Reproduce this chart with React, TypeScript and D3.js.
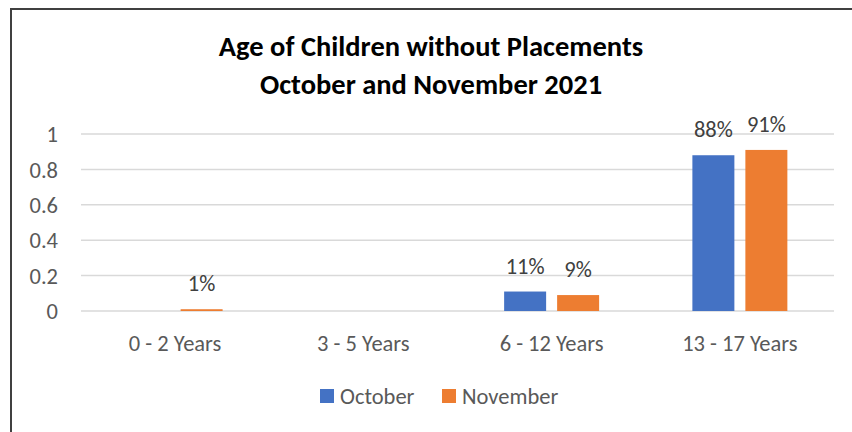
import React from "react";
import * as d3 from "d3";

const WIDTH = 852;
const HEIGHT = 432;
const FONT = "Calibri, Carlito, Lato, 'Open Sans', sans-serif";

const categories = ["0 - 2 Years", "3 - 5 Years", "6 - 12 Years", "13 - 17 Years"];
const seriesNames = ["October", "November"];
const october = [0, 0, 0.11, 0.88];
const november = [0.01, 0, 0.09, 0.91];
const octoberLabels = ["", "", "11%", "88%"];
const novemberLabels = ["1%", "", "9%", "91%"];
const yTicks = [0, 0.2, 0.4, 0.6, 0.8, 1];
const COLORS = ["#4472C4", "#ED7D31"];

const titleLines = ["Age of Children without Placements", "October and November 2021"];

export default function App() {
  const left = 81;
  const right = 834;
  const top = 134;
  const bottom = 311;

  const x0 = d3.scaleBand().domain(categories).range([left, right]).padding(0);
  const x1 = d3
    .scaleBand()
    .domain(seriesNames)
    .range([0, x0.bandwidth()])
    .paddingInner(0.2075)
    .paddingOuter(0.88);
  const y = d3.scaleLinear().domain([0, 1]).range([bottom, top]);

  const values = [october, november];
  const labels = [octoberLabels, novemberLabels];

  return (
    <svg
      width={WIDTH}
      height={HEIGHT}
      style={{ position: "absolute", left: 0, top: 0, background: "#fff" }}
      fontFamily={FONT}
    >
      <rect x={0} y={0} width={WIDTH} height={HEIGHT} fill="#fff" />
      {/* chart border, only top and left show */}
      <line x1={10} x2={WIDTH} y1={9} y2={9} stroke="#404040" strokeWidth={2} />
      <line x1={11} x2={11} y1={8} y2={HEIGHT} stroke="#404040" strokeWidth={2} />

      {titleLines.map((t, i) => (
        <text
          key={t}
          x={431}
          y={56 + i * 38}
          textAnchor="middle"
          fontSize={28.5}
          fontWeight="bold"
          fill="#000"
        >
          {t}
        </text>
      ))}

      {yTicks.map((t) => (
        <g key={t}>
          <line x1={left} x2={right} y1={y(t)} y2={y(t)} stroke="#d9d9d9" strokeWidth={1.5} />
          <text
            x={58}
            y={y(t)}
            dy="0.36em"
            textAnchor="end"
            fontSize={22.5}
            fill="#595959"
          >
            {t}
          </text>
        </g>
      ))}

      {categories.map((c, i) => (
        <g key={c} transform={`translate(${x0(c)},0)`}>
          {seriesNames.map((s, j) => {
            const v = values[j][i];
            const bx = x1(s) as number;
            return (
              <g key={s}>
                {v > 0 && (
                  <rect
                    x={bx}
                    y={y(v)}
                    width={x1.bandwidth()}
                    height={y(0) - y(v)}
                    fill={COLORS[j]}
                  />
                )}
                {labels[j][i] && (
                  <text
                    x={bx + x1.bandwidth() / 2}
                    y={y(v) - 18}
                    textAnchor="middle"
                    fontSize={22.5}
                    fill="#404040"
                  >
                    {labels[j][i]}
                  </text>
                )}
              </g>
            );
          })}
          <text
            x={x0.bandwidth() / 2}
            y={351}
            textAnchor="middle"
            fontSize={22.5}
            fill="#595959"
          >
            {c}
          </text>
        </g>
      ))}

      {/* legend */}
      {seriesNames.map((s, j) => {
        const lx = j === 0 ? 320 : 442;
        return (
          <g key={s} transform={`translate(${lx},389)`}>
            <rect x={0} y={0} width={14} height={14} fill={COLORS[j]} />
            <text x={20} y={7} dy="0.36em" fontSize={22.5} fill="#595959">
              {s}
            </text>
          </g>
        );
      })}
    </svg>
  );
}
